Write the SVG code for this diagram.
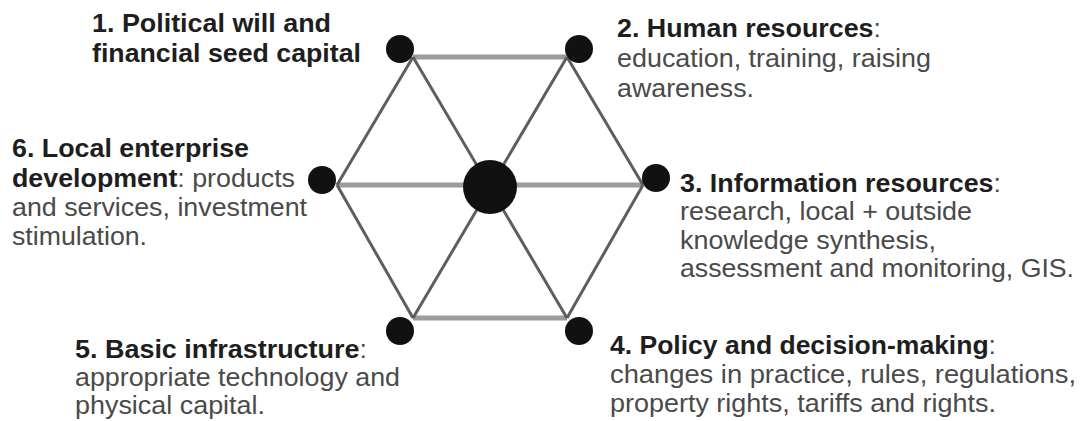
<svg xmlns="http://www.w3.org/2000/svg" width="1081" height="421" viewBox="0 0 1081 421">
<style>
text{font-family:"Liberation Sans",Arial,Helvetica,sans-serif;font-size:25px;fill:#4a4a4a}
.b{font-weight:bold;fill:#1e1e1e}
.h{stroke:#9c9c9c;stroke-width:5;fill:none}
.d{stroke:#5e5e5e;stroke-width:3;fill:none}
.n{fill:#111}
</style>
<rect width="1081" height="421" fill="#fff"/>
<g id="connectors">
<line class="h" x1="413" y1="57" x2="567" y2="57"/>
<line class="h" x1="337" y1="185" x2="643" y2="185"/>
<line class="h" x1="413" y1="318" x2="567" y2="318"/>
<line class="d" x1="413" y1="57" x2="337" y2="185"/>
<line class="d" x1="337" y1="185" x2="413" y2="318"/>
<line class="d" x1="567" y1="57" x2="643" y2="185"/>
<line class="d" x1="643" y1="185" x2="567" y2="318"/>
<line class="d" x1="413" y1="57" x2="567" y2="318"/>
<line class="d" x1="567" y1="57" x2="413" y2="318"/>
</g>
<g id="center"><circle class="n" cx="490" cy="187" r="27"/></g>
<g id="node1">
<circle class="n" cx="400" cy="49" r="14"/>
<text class="b" x="92" y="32" textLength="239" lengthAdjust="spacingAndGlyphs">1. Political will and</text>
<text class="b" x="92" y="62" textLength="269" lengthAdjust="spacingAndGlyphs">financial seed capital</text>
</g>
<g id="node2">
<circle class="n" cx="579" cy="49" r="14"/>
<text x="617" y="37" textLength="264" lengthAdjust="spacingAndGlyphs"><tspan class="b">2. Human resources</tspan>:</text>
<text x="617" y="67" textLength="314" lengthAdjust="spacingAndGlyphs">education, training, raising</text>
<text x="617" y="97" textLength="137" lengthAdjust="spacingAndGlyphs">awareness.</text>
</g>
<g id="node3">
<circle class="n" cx="656" cy="178" r="14"/>
<text x="680" y="192" textLength="321" lengthAdjust="spacingAndGlyphs"><tspan class="b">3. Information resources</tspan>:</text>
<text x="680" y="220" textLength="292" lengthAdjust="spacingAndGlyphs">research, local + outside</text>
<text x="680" y="249" textLength="256" lengthAdjust="spacingAndGlyphs">knowledge synthesis,</text>
<text x="680" y="277" textLength="394" lengthAdjust="spacingAndGlyphs">assessment and monitoring, GIS.</text>
</g>
<g id="node4">
<circle class="n" cx="579" cy="331" r="14"/>
<text x="610" y="354" textLength="386" lengthAdjust="spacingAndGlyphs"><tspan class="b">4. Policy and decision-making</tspan>:</text>
<text x="610" y="383" textLength="466" lengthAdjust="spacingAndGlyphs">changes in practice, rules, regulations,</text>
<text x="610" y="412" textLength="386" lengthAdjust="spacingAndGlyphs">property rights, tariffs and rights.</text>
</g>
<g id="node5">
<circle class="n" cx="400" cy="331" r="14"/>
<text x="75" y="358" textLength="292" lengthAdjust="spacingAndGlyphs"><tspan class="b">5. Basic infrastructure</tspan>:</text>
<text x="75" y="386" textLength="325" lengthAdjust="spacingAndGlyphs">appropriate technology and</text>
<text x="75" y="414" textLength="190" lengthAdjust="spacingAndGlyphs">physical capital.</text>
</g>
<g id="node6">
<circle class="n" cx="322" cy="180" r="14"/>
<text class="b" x="12" y="157" textLength="237" lengthAdjust="spacingAndGlyphs">6. Local enterprise</text>
<text x="12" y="187" textLength="283" lengthAdjust="spacingAndGlyphs"><tspan class="b">development</tspan>: products</text>
<text x="12" y="216" textLength="295" lengthAdjust="spacingAndGlyphs">and services, investment</text>
<text x="12" y="245" textLength="135" lengthAdjust="spacingAndGlyphs">stimulation.</text>
</g>
</svg>
